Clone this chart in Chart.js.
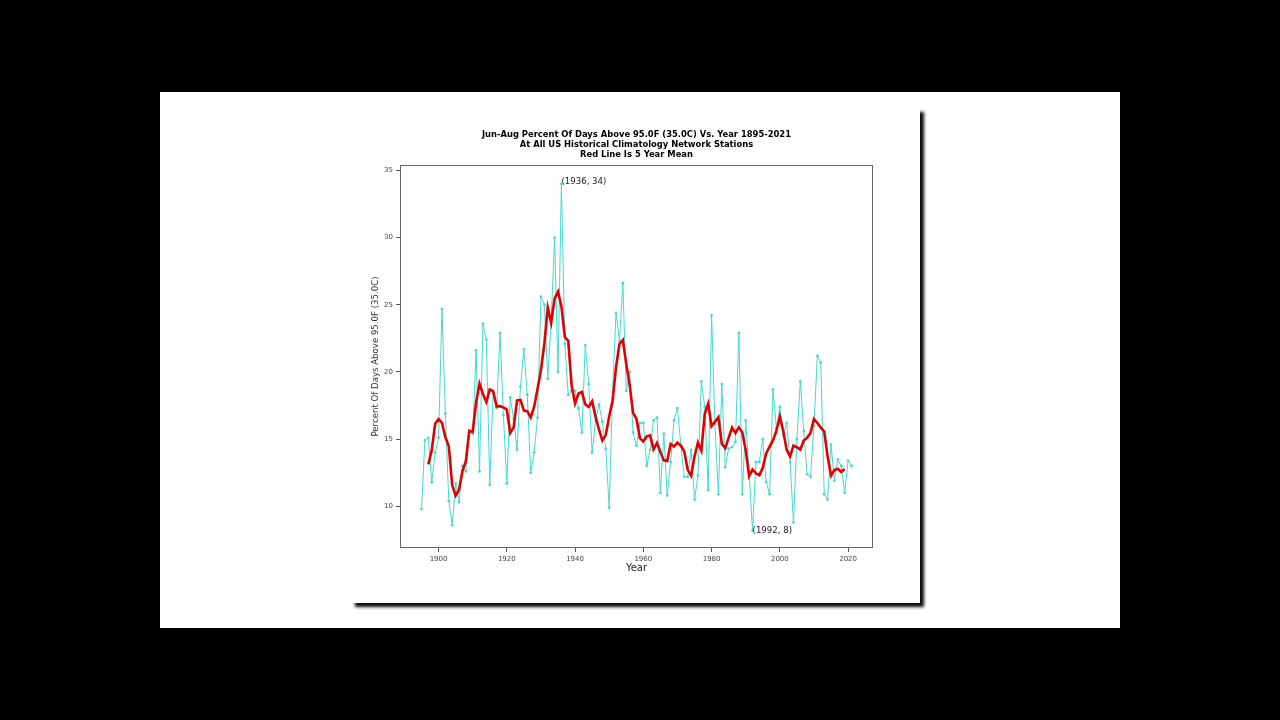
<!DOCTYPE html>
<html><head><meta charset="utf-8">
<script src="https://cdn.jsdelivr.net/npm/chart.js@4/dist/chart.umd.min.js"></script>
<style>
html,body{margin:0;padding:0;background:#000;width:1280px;height:720px;overflow:hidden;}
#panel{position:absolute;left:160px;top:92px;width:960px;height:536px;background:#fff;}
#page{position:absolute;left:351px;top:108px;width:569px;height:495px;background:#fff;box-shadow:4px 4px 3px rgba(0,0,0,0.95);}
#c{position:absolute;left:340px;top:120px;}
</style></head><body>
<div id="panel"></div><div id="page"></div>
<canvas id="c" width="560" height="470"></canvas>
<script>
const years = [
1895,1896,1897,1898,1899,1900,1901,1902,1903,1904,
1905,1906,1907,1908,1909,1910,1911,1912,1913,1914,
1915,1916,1917,1918,1919,1920,1921,1922,1923,1924,
1925,1926,1927,1928,1929,1930,1931,1932,1933,1934,
1935,1936,1937,1938,1939,1940,1941,1942,1943,1944,
1945,1946,1947,1948,1949,1950,1951,1952,1953,1954,
1955,1956,1957,1958,1959,1960,1961,1962,1963,1964,
1965,1966,1967,1968,1969,1970,1971,1972,1973,1974,
1975,1976,1977,1978,1979,1980,1981,1982,1983,1984,
1985,1986,1987,1988,1989,1990,1991,1992,1993,1994,
1995,1996,1997,1998,1999,2000,2001,2002,2003,2004,
2005,2006,2007,2008,2009,2010,2011,2012,2013,2014,
2015,2016,2017,2018,2019,2020,2021];
const pctDaysAbove95 = [
9.8,14.9,15.1,11.8,14.0,15.1,24.7,16.9,10.4,8.6,
11.7,10.3,13.0,12.6,15.5,15.4,21.6,12.6,23.6,22.4,
11.6,18.6,17.3,22.9,16.8,11.7,18.1,16.5,14.2,18.9,
21.7,18.3,12.5,14.0,16.6,25.6,25.0,19.5,23.8,30.0,
20.0,34.0,22.1,18.3,18.6,18.6,17.3,15.5,22.0,19.1,
14.0,16.4,17.6,16.3,14.3,9.9,18.5,24.4,22.3,26.6,
18.6,20.0,15.5,14.5,16.2,16.2,13.0,14.2,16.4,16.6,
11.0,15.4,10.8,13.3,16.4,17.3,14.5,12.2,12.2,14.2,
10.5,12.3,19.3,17.4,11.2,24.2,16.1,10.9,19.1,12.9,
14.3,14.4,14.8,22.9,10.9,16.4,12.5,8.2,13.3,13.3,
15.0,11.8,10.9,18.7,15.8,17.4,15.3,16.2,13.3,8.8,
15.0,19.3,15.6,12.4,12.2,16.0,21.2,20.7,10.9,10.5,
14.6,11.9,13.5,13.0,11.0,13.4,13.0];
const xTicks = [1900,1920,1940,1960,1980,2000,2020];
const yTicks = [10,15,20,25,30,35];
const titleLines = [
 'Jun-Aug Percent Of Days Above 95.0F (35.0C) Vs. Year 1895-2021',
 'At All US Historical Climatology Network Stations',
 'Red Line Is 5 Year Mean'];
const notes = [
 {year:1936, value:34, label:'(1936, 34)'},
 {year:1992, value:8, label:'(1992, 8)'}];

// red line: the 5-year centered mean named in the title
const meanPoints = [];
for (let i = 2; i < years.length - 2; i++) {
  let s = 0; for (let k = -2; k <= 2; k++) s += pctDaysAbove95[i + k];
  meanPoints.push({x: years[i], y: s / 5});
}
const rawPoints = years.map((y, i) => ({x: y, y: pctDaysAbove95[i]}));

const FONT = 'DejaVu Sans';
const framePlugin = {
  id: 'frame',
  afterDatasetsDraw(chart) {
    const {ctx, chartArea: a, scales} = chart;
    ctx.save();
    ctx.strokeStyle = '#666'; ctx.lineWidth = 1;
    ctx.strokeRect(a.left + 0.5, a.top + 0.5, a.right - a.left - 1, a.bottom - a.top - 1);
    ctx.fillStyle = '#222';
    ctx.font = '8.6px "' + FONT + '"';
    ctx.textAlign = 'left'; ctx.textBaseline = 'alphabetic';
    notes.forEach(n => {
      ctx.fillText(n.label, scales.x.getPixelForValue(n.year), scales.y.getPixelForValue(n.value));
    });
    // figure title, centred over the plot area
    ctx.fillStyle = '#000';
    ctx.font = 'bold 8.4px "' + FONT + '"';
    ctx.textAlign = 'center'; ctx.textBaseline = 'middle';
    const cx = (a.left + a.right) / 2;
    titleLines.forEach((t, i) => ctx.fillText(t, cx, a.top - 30 + i * 10));
    ctx.restore();
  }
};

new Chart(document.getElementById('c'), {
  type: 'line',
  data: {
    datasets: [
      {data: meanPoints, borderColor: '#e00000', borderWidth: 2.6, pointRadius: 0, tension: 0, fill: false},
      {data: rawPoints, borderColor: '#45d9d2', backgroundColor: '#45d9d2', borderWidth: 1,
       pointRadius: 1.4, pointBorderWidth: 0, tension: 0, fill: false}
    ]
  },
  options: {
    responsive: false, animation: false, devicePixelRatio: 1,
    layout: {padding: {left: 0, right: 27, top: 45, bottom: 0}},
    plugins: {
      legend: {display: false}, tooltip: {enabled: false}, title: {display: false}
    },
    scales: {
      x: {type: 'linear', min: 1888.7, max: 2027.3,
        afterBuildTicks: s => { s.ticks = xTicks.map(v => ({value: v})); },
        afterFit: s => { s.height = 42; },
        grid: {display: true, drawOnChartArea: false, drawTicks: true, tickLength: 4, color: '#555'},
        border: {display: false},
        ticks: {color: '#444', font: {family: FONT, size: 7}, padding: 3, maxRotation: 0, autoSkip: false,
          callback: v => String(v)},
        title: {display: true, text: 'Year', color: '#222', font: {family: FONT, size: 10}, padding: {top: 0, bottom: 16}}
      },
      y: {type: 'linear', min: 6.9, max: 35.4,
        afterBuildTicks: s => { s.ticks = yTicks.map(v => ({value: v})); },
        afterFit: s => { s.width = 60; },
        grid: {display: true, drawOnChartArea: false, drawTicks: true, tickLength: 4, color: '#555'},
        border: {display: false},
        ticks: {color: '#444', font: {family: FONT, size: 7}, padding: 3, callback: v => String(v)},
        title: {display: true, text: 'Percent Of Days Above 95.0F (35.0C)', color: '#333',
          font: {family: FONT, size: 8.6}, padding: {top: 31, bottom: 0}}
      }
    }
  },
  plugins: [framePlugin]
});
</script>
</body></html>
